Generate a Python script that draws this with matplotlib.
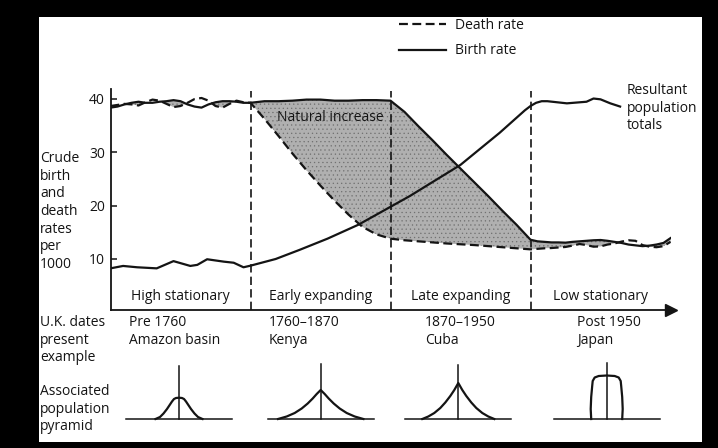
import matplotlib.pyplot as plt
import numpy as np
from matplotlib.lines import Line2D
from matplotlib.patches import Rectangle

plt.rcParams['font.family'] = ['Open Sans', 'DejaVu Sans']
plt.rcParams['hatch.linewidth'] = 0.4

W, H = 718, 448
FS = 10
INK = '#141414'

# stages along the time axis
stages = ['High stationary', 'Early expanding', 'Late expanding', 'Low stationary']
stage_mid = [0.5, 1.5, 2.5, 3.5]
stage_breaks = [1, 2, 3]
rate_ticks = [10, 20, 30, 40]
dates = ['Pre 1760\nAmazon basin', '1760–1870\nKenya', '1870–1950\nCuba', 'Post 1950\nJapan']

# birth / death rates per 1000
rate_x = [0.0, 0.05, 0.1, 0.15, 0.2, 0.25, 0.3, 0.35, 0.4, 0.45, 0.5,
          0.55, 0.6, 0.65, 0.7, 0.75, 0.8, 0.85, 0.9, 0.95, 1.0,
          1.1, 1.2, 1.3, 1.4, 1.5, 1.6, 1.7, 1.8, 1.9, 2.0,
          2.1, 2.2, 2.3, 2.4, 2.5, 2.6, 2.7, 2.8, 2.9,
          3.0, 3.05, 3.1, 3.15, 3.2, 3.25, 3.3, 3.35, 3.4, 3.45, 3.5,
          3.55, 3.6, 3.65, 3.7, 3.75, 3.8, 3.85, 3.9, 3.95, 4.0]
birth = [38.3, 38.5, 38.9, 39.2, 39.4, 39.2, 39.2, 39.4, 39.5, 39.7, 39.5,
         38.9, 38.5, 38.3, 38.9, 39.3, 39.5, 39.5, 39.4, 39.2, 39.2,
         39.5, 39.5, 39.6, 39.8, 39.8, 39.6, 39.6, 39.7, 39.7, 39.6,
         37.5, 34.8, 32.2, 29.5, 26.9, 24.3, 21.7, 19.0, 16.4,
         13.6, 13.3, 13.2, 13.1, 13.1, 13.05, 13.2, 13.3, 13.4, 13.5, 13.55,
         13.4, 13.2, 13.0, 12.7, 12.55, 12.4, 12.5, 12.7, 13.0, 13.9]
death = [38.6, 38.8, 39.0, 38.9, 38.7, 39.3, 39.8, 39.6, 39.0, 38.4, 38.6,
         39.2, 39.9, 40.1, 39.6, 38.6, 38.3, 39.0, 39.6, 39.3, 39.2,
         36.2, 33.0, 29.7, 26.6, 23.7, 20.9, 18.3, 16.0, 14.6, 13.8,
         13.5, 13.3, 13.1, 12.9, 12.75, 12.6, 12.4, 12.2, 12.0,
         11.8, 11.9, 12.0, 12.05, 12.15, 12.25, 12.5, 12.8, 12.6, 12.3, 12.35,
         12.7, 12.9, 13.25, 13.5, 13.4, 12.6, 12.3, 12.2, 12.4, 13.2]

# resultant population totals curve
pop_x = [0.0, 0.09, 0.19, 0.33, 0.45, 0.57, 0.62, 0.69, 0.81, 0.88, 0.95, 1.0,
         1.18, 1.35, 1.55, 1.77, 2.14, 2.5, 2.78, 2.96, 3.0, 3.04, 3.08, 3.12,
         3.26, 3.4, 3.45, 3.5, 3.57, 3.64]
pop_y = [8.25, 8.7, 8.45, 8.25, 9.6, 8.7, 8.9, 9.95, 9.5, 9.3, 8.45, 8.75,
         10.0, 11.7, 13.8, 16.4, 21.8, 27.6, 33.6, 37.8, 38.6, 39.2, 39.5, 39.5,
         39.1, 39.4, 40.0, 39.85, 39.1, 38.5]

# population pyramid outlines: half width and height (bottom to top)
pyr_w = [[23.5, 19, 15.5, 12, 9, 7, 5, 3, 0],
         [42.7, 34, 26, 19, 13, 8, 4, 0],
         [36, 30, 24, 18, 13, 8, 4, 0],
         [15.5, 16, 15.5, 14.5, 14, 12, 8, 0]]
pyr_h = [[0, 2, 5.5, 10, 14.5, 17.5, 20, 21, 21.3],
         [0, 2.5, 6, 10.5, 15.5, 20.5, 25, 29],
         [0, 2.5, 6, 11, 16.5, 23, 29, 36],
         [0, 10, 22, 33, 38, 41.5, 43, 43.5]]
pyr_stem = [53, 55, 54, 56]


def fx(px):
    return px / W


def fy(py):
    return 1 - py / H


fig = plt.figure(figsize=(W / 100, H / 100), dpi=100, facecolor='black')
fig.add_artist(Rectangle((fx(39), fy(442)), (702 - 39) / W, (442 - 17) / H,
                         transform=fig.transFigure, facecolor='white',
                         edgecolor='none', zorder=0))

# main chart
ax = fig.add_axes([fx(110.5), fy(309.8), 560 / W, (309.8 - 88.9) / H])
ax.set_facecolor('none')
ax.set_xlim(0, 4)
ax.set_ylim(0.5, 41.8)
for s in ['top', 'right']:
    ax.spines[s].set_visible(False)
for s in ['left', 'bottom']:
    ax.spines[s].set_linewidth(1.3)
    ax.spines[s].set_color(INK)
ax.set_xticks([])
ax.set_yticks(rate_ticks)
ax.tick_params(axis='y', direction='in', length=4, width=1.1, pad=4,
               labelsize=FS, colors=INK)
ax.plot(1.0, 0, marker='>', ms=8, color=INK, transform=ax.transAxes, clip_on=False)

for b in stage_breaks:
    ax.axvline(b, ymin=0, ymax=0.99, color=INK, lw=1.2, ls=(0, (5, 2.5)))

b_arr = np.array(birth)
d_arr = np.array(death)
ax.fill_between(rate_x, d_arr, b_arr, where=b_arr >= d_arr, interpolate=True,
                facecolor='#b0b0b0', edgecolor='#707070', hatch='....',
                linewidth=0, zorder=1)
ax.plot(rate_x, death, color=INK, lw=1.6, ls=(0, (4, 2)), zorder=3)
ax.plot(rate_x, birth, color=INK, lw=1.6, zorder=3)
ax.plot(pop_x, pop_y, color=INK, lw=1.6, zorder=3)

for m, s in zip(stage_mid, stages):
    ax.text(m, 2.9, s, ha='center', va='center', fontsize=FS, color=INK)
ax.text(1.57, 36.5, 'Natural increase', ha='center', va='center', fontsize=FS, color=INK)

handles = [Line2D([], [], color=INK, lw=1.6, ls=(0, (4, 2))),
           Line2D([], [], color=INK, lw=1.6)]
fig.legend(handles, ['Death rate', 'Birth rate'], loc='upper left',
           bbox_to_anchor=(fx(399), fy(18)), frameon=False, borderpad=0,
           borderaxespad=0, handlelength=3.4, handletextpad=0.6,
           labelspacing=0.75, fontsize=FS, labelcolor=INK)

LS = 1.24
fig.text(fx(40), fy(151), 'Crude\nbirth\nand\ndeath\nrates\nper\n1000',
         ha='left', va='top', fontsize=FS, linespacing=LS, color=INK)
fig.text(fx(627), fy(83), 'Resultant\npopulation\ntotals',
         ha='left', va='top', fontsize=FS, linespacing=LS, color=INK)
fig.text(fx(40), fy(315), 'U.K. dates\npresent\nexample',
         ha='left', va='top', fontsize=FS, linespacing=LS, color=INK)
fig.text(fx(40), fy(384), 'Associated\npopulation\npyramid',
         ha='left', va='top', fontsize=FS, linespacing=LS, color=INK)

date_left = [129.3, 269, 425, 576.7]
for px, s in zip(date_left, dates):
    fig.text(fx(px), fy(315), s, ha='left', va='top', fontsize=FS,
             linespacing=LS, color=INK)

# pyramids
pyr_center = [179, 320.7, 458.3, 606.7]
for c, w, h, stem in zip(pyr_center, pyr_w, pyr_h, pyr_stem):
    pax = fig.add_axes([fx(c - 53), fy(419), 106 / W, 58 / H])
    pax.set_xlim(-53, 53)
    pax.set_ylim(0, 58)
    pax.axis('off')
    w = np.array(w)
    h = np.array(h)
    pax.plot(np.concatenate([-w, w[::-1]]), np.concatenate([h, h[::-1]]),
             color=INK, lw=1.6, clip_on=False)
    pax.axhline(0, color=INK, lw=1.1, clip_on=False)
    pax.plot([0, 0], [0, stem], color=INK, lw=1.1, clip_on=False)

fig.savefig('out.png', dpi=100, facecolor='black')
